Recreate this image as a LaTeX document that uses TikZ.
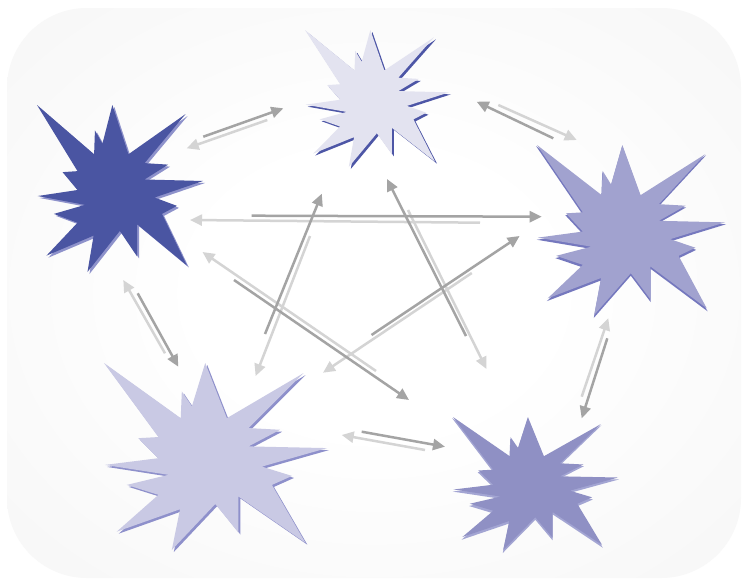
\documentclass[tikz,border=0pt]{standalone}
\usetikzlibrary{arrows.meta}
\definecolor{bgout}{HTML}{F0F0F0}
\definecolor{arrdark}{HTML}{A4A4A4}
\definecolor{arrlight}{HTML}{D4D4D4}
\definecolor{fA}{HTML}{4A55A2}\definecolor{sA}{HTML}{8E92CB}
\definecolor{fB}{HTML}{E3E3F0}\definecolor{sB}{HTML}{4D56A6}
\definecolor{fC}{HTML}{A1A2CF}\definecolor{sC}{HTML}{7578BE}
\definecolor{fD}{HTML}{C9C9E4}\definecolor{sD}{HTML}{8E90CB}
\definecolor{fE}{HTML}{8F90C4}\definecolor{sE}{HTML}{A3A5D3}
\pgfdeclareradialshading{bgshade}{\pgfpoint{0bp}{0bp}}{color(0bp)=(white);color(12bp)=(white);color(55bp)=(bgout);color(100bp)=(bgout)}
\tikzset{
  burst/.pic={\fill (0,0) -- (0.344,0.295) -- (0.349,0.152) -- (0.394,0.232) -- (0.454,0) -- (0.551,0.295) -- (0.895,0.054) -- (0.648,0.348) -- (0.790,0.357) -- (0.648,0.446) -- (1,0.455) -- (0.708,0.554) -- (0.843,0.604) -- (0.753,0.652) -- (0.903,0.961) -- (0.603,0.714) -- (0.603,0.907) -- (0.499,0.754) -- (0.304,1) -- (0.341,0.782) -- (0.057,0.902) -- (0.244,0.705) -- (0.102,0.652) -- (0.289,0.598) -- (0.004,0.545) -- (0.244,0.509) -- (0.154,0.402) -- (0.244,0.396) -- cycle;},
  darkarr/.style={draw=arrdark, line width=2.5pt, -{Triangle[length=12pt,width=11pt]}},
  lightarr/.style={draw=arrlight, line width=2.5pt, -{Triangle[length=12pt,width=11pt]}}
}
% x0 y0 w h fill shadow dx dy dgrow
\newcommand\myburst[9]{%
  \begin{scope}[shift={(#1+#7,#2+#8)},xscale=#3+#9,yscale=#4+#9,fill=#6]\pic[transform shape]{burst};\end{scope}
  \begin{scope}[shift={(#1,#2)},xscale=#3,yscale=#4,fill=#5]\pic[transform shape]{burst};\end{scope}}
\begin{document}
\begin{tikzpicture}[x=1pt,y=-1pt]
\useasboundingbox (0,0) rectangle (742,581);
\fill[white] (0,0) rectangle (742,581);
\shade[shading=bgshade, rounded corners=80pt] (7,8) rectangle (741,578);
% stars
\myburst{37}{105}{166}{167}{fA}{sA}{2}{2}{0}
\myburst{305}{30}{144}{137}{fB}{sB}{2}{2}{0}
\myburst{537}{145}{188}{170}{fC}{sC}{-1}{1}{2}
\myburst{104}{363}{223}{187}{fD}{sD}{2}{2}{0}
\myburst{453}{417}{165}{133}{fE}{sE}{-1}{1}{2}
% arrow end points
\coordinate (ab1) at (203.3,136.7); \coordinate (ab2) at (283.3,108.3);
\coordinate (ba1) at (267.3,120);   \coordinate (ba2) at (186.7,148.3);
\coordinate (cb1) at (553.3,138.3); \coordinate (cb2) at (476.7,101.7);
\coordinate (bc1) at (498.3,105);   \coordinate (bc2) at (576.7,140);
\coordinate (da1) at (165,353.3);   \coordinate (da2) at (123.3,280);
\coordinate (ad1) at (137.7,293.3); \coordinate (ad2) at (178.3,366.7);
\coordinate (ec1) at (581.7,396.7); \coordinate (ec2) at (608.3,318.3);
\coordinate (ce1) at (607.3,338.3); \coordinate (ce2) at (581.7,418.3);
\coordinate (de1) at (361.7,431.7); \coordinate (de2) at (445,446.7);
\coordinate (ed1) at (425,450);     \coordinate (ed2) at (341.7,435);
\coordinate (ac1) at (251.7,215.7); \coordinate (ac2) at (541.7,216.7);
\coordinate (ca1) at (480,222.7);   \coordinate (ca2) at (190,220);
\coordinate (db1) at (265,334);     \coordinate (db2) at (321.8,193.7);
\coordinate (bd1) at (310,236);     \coordinate (bd2) at (255.6,376);
\coordinate (eb1) at (466,336);     \coordinate (eb2) at (387,179);
\coordinate (be1) at (408,210);     \coordinate (be2) at (486.5,369);
\coordinate (ae1) at (234,280);     \coordinate (ae2) at (409,400);
\coordinate (ea1) at (376,371);     \coordinate (ea2) at (202.5,252);
\coordinate (dc1) at (371.5,335);   \coordinate (dc2) at (519.6,236);
\coordinate (cd1) at (471.8,273);   \coordinate (cd2) at (323,372.7);
% light arrows
\draw[lightarr] (ba1) -- (ba2);
\draw[lightarr] (bc1) -- (bc2);
\draw[lightarr] (da1) -- (da2);
\draw[lightarr] (ec1) -- (ec2);
\draw[lightarr] (ed1) -- (ed2);
\draw[lightarr] (ca1) -- (ca2);
\draw[lightarr] (bd1) -- (bd2);
\draw[lightarr] (be1) -- (be2);
\draw[lightarr] (ea1) -- (ea2);
\draw[lightarr] (cd1) -- (cd2);
% dark arrows
\draw[darkarr] (ab1) -- (ab2);
\draw[darkarr] (cb1) -- (cb2);
\draw[darkarr] (ad1) -- (ad2);
\draw[darkarr] (ce1) -- (ce2);
\draw[darkarr] (de1) -- (de2);
\draw[darkarr] (ac1) -- (ac2);
\draw[darkarr] (db1) -- (db2);
\draw[darkarr] (eb1) -- (eb2);
\draw[darkarr] (ae1) -- (ae2);
\draw[darkarr] (dc1) -- (dc2);
\end{tikzpicture}
\end{document}
